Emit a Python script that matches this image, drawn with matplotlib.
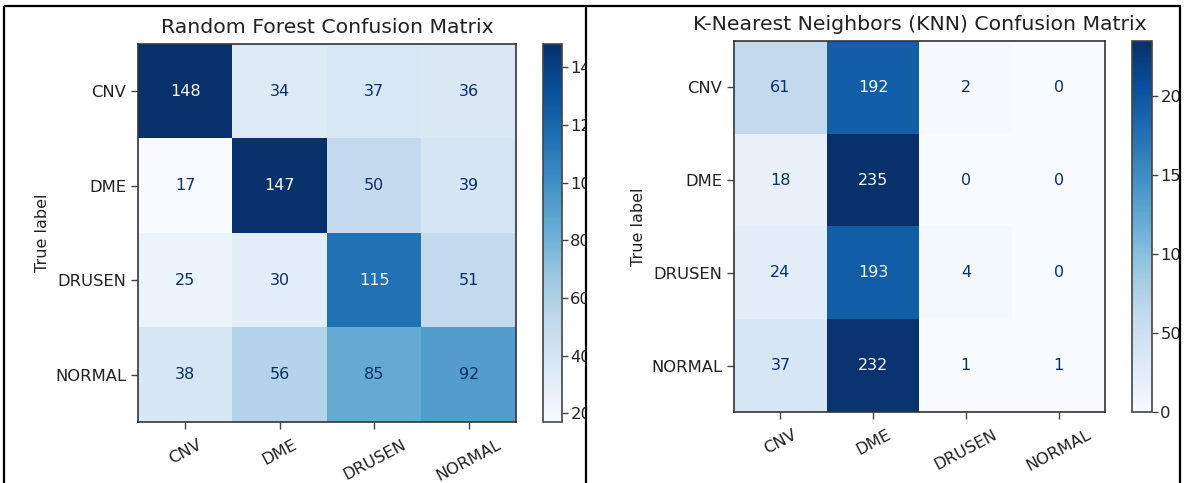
import numpy as np
import matplotlib
matplotlib.use("Agg")
import matplotlib.pyplot as plt
from matplotlib.lines import Line2D
from matplotlib.patches import Rectangle

classes = ["CNV", "DME", "DRUSEN", "NORMAL"]

rf_matrix = np.array([
    [148, 34, 37, 36],
    [17, 147, 50, 39],
    [25, 30, 115, 51],
    [38, 56, 85, 92],
])

knn_matrix = np.array([
    [61, 192, 2, 0],
    [18, 235, 0, 0],
    [24, 193, 4, 0],
    [37, 232, 1, 1],
])

rf_title = "Random Forest Confusion Matrix"
knn_title = "K-Nearest Neighbors (KNN) Confusion Matrix"

W, H = 1193, 483
fig = plt.figure(figsize=(W / 100, H / 100), dpi=100)
fig.patch.set_facecolor("white")


def px_rect(x0, y0, x1, y1):
    """Convert pixel box (top-left origin) to figure fraction rect."""
    return [x0 / W, 1 - y1 / H, (x1 - x0) / W, (y1 - y0) / H]


def draw_matrix(ax, cax, cm, title, zorder):
    ax.set_zorder(zorder)
    cax.set_zorder(zorder)
    cmap = plt.get_cmap("Blues")
    im = ax.imshow(cm, cmap=cmap, interpolation="nearest", aspect="auto")
    lo, hi = cm.min(), cm.max()
    for i in range(cm.shape[0]):
        for j in range(cm.shape[1]):
            frac = (cm[i, j] - lo) / (hi - lo)
            color = cmap(0.0) if frac > 0.6 else cmap(1.0)
            ax.text(j, i, f"{cm[i, j]}", ha="center", va="center",
                    color=color, fontsize=11.5)
    ax.set_xticks(range(len(classes)))
    ax.set_yticks(range(len(classes)))
    ax.set_xticklabels(classes, rotation=28, ha="center", fontsize=11.8,
                       color="#222222")
    ax.set_yticklabels(classes, fontsize=11.8, color="#222222")
    ax.set_ylabel("True label", fontsize=11.5, color="#222222")
    ax.set_title(title, fontsize=14.7, color="#222222", pad=8)
    for s in ax.spines.values():
        s.set_linewidth(1.2)
        s.set_color("#333333")
    ax.tick_params(length=5, width=1, colors="#444444", labelcolor="#222222")
    ax.tick_params(axis="x", pad=6)
    cb = fig.colorbar(im, cax=cax)
    cb.outline.set_linewidth(1.2)
    cb.outline.set_edgecolor("#444444")
    cb.ax.tick_params(labelsize=11.8, length=4, width=1, pad=2,
                      colors="#444444", labelcolor="#222222")
    return cb


# Left panel: random forest
ax_rf = fig.add_axes(px_rect(138, 44, 516, 422))
cax_rf = fig.add_axes(px_rect(543, 44, 562, 422))
draw_matrix(ax_rf, cax_rf, rf_matrix, rf_title, zorder=0)

# White backdrop of the right panel hides the overflow of the left one
fig.add_artist(Rectangle((587 / W, 0), 1 - 587 / W, 1 - 6 / H,
                         transform=fig.transFigure, facecolor="white",
                         edgecolor="none", zorder=0.5))

# Right panel: KNN
ax_knn = fig.add_axes(px_rect(734, 41, 1105, 412))
cax_knn = fig.add_axes(px_rect(1132, 41, 1152, 412))
draw_matrix(ax_knn, cax_knn, knn_matrix, knn_title, zorder=1)

fig.add_artist(Rectangle((1181 / W, 0), 1 - 1181 / W, 1,
                         transform=fig.transFigure, facecolor="white",
                         edgecolor="none", zorder=1.5))

# Panel frame lines
def frame_line(xs, ys):
    fig.add_artist(Line2D([x / W for x in xs], [1 - y / H for y in ys],
                          transform=fig.transFigure, color="black",
                          linewidth=1.6, zorder=3, solid_capstyle="butt"))


frame_line([4, 1181], [6, 6])
frame_line([4, 4], [6, H])
frame_line([586, 586], [6, H])
frame_line([1180, 1180], [6, H])

fig.savefig("out.png", dpi=100, facecolor="white")
